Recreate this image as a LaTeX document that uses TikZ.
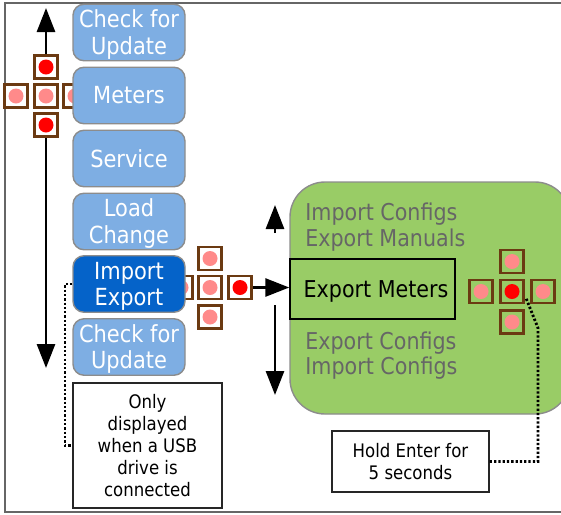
\documentclass[tikz,border=0pt]{standalone}
\usepackage{fontspec}
\setmainfont[FakeStretch=0.89]{DejaVu Sans}
\usetikzlibrary{arrows.meta}
\definecolor{menublue}{HTML}{7EAEE3}
\definecolor{menudark}{HTML}{0563C9}
\definecolor{panelgreen}{HTML}{99CC66}
\definecolor{keybrown}{HTML}{6B3A12}
\definecolor{keypink}{HTML}{FF8A8A}
\tikzset{
	menubox/.style={draw=black!45, line width=0.8pt, fill=menublue, rounded corners=2.2mm, minimum width=2.24cm, minimum height=1.13cm, align=center, text=white, inner sep=0pt, font=\fontsize{13.4}{15.2}\selectfont},
	notebox/.style={draw=black!85, line width=0.8pt, fill=white, align=center, inner sep=0pt, font=\fontsize{10.6}{12.5}\selectfont},
	padkey/.style={draw=keybrown, line width=1.5pt, fill=white, minimum size=0.46cm, inner sep=0pt},
	padon/.style={circle, fill=red, minimum size=0.3cm, inner sep=0pt},
	padoff/.style={circle, fill=keypink, minimum size=0.3cm, inner sep=0pt},
	grayitem/.style={anchor=west, text=black!60, inner sep=0pt, font=\fontsize{13.2}{15}\selectfont},
	movearrow/.style={line width=1.6pt, -{Triangle[length=0.48cm, width=0.36cm]}},
	notelink/.style={line width=1.6pt, dash pattern=on 1.3pt off 1.15pt},
}
\newcommand{\padkeyat}[4]{
	\node (#1) at (#2) [padkey, #3] {};
	\node (#1dot) at (#2) [#4] {};
}
\newcommand{\twolines}[2]{\rule{0pt}{12.6pt}#1\\#2}
\begin{document}
\begin{tikzpicture}[x=0.2mm, y=-0.2mm]
	\clip (0,0) rectangle (561,514);
	\draw[black!60, line width=0.8pt] (5,3) rectangle (575,512);

	% left pad
	\padkeyat{menuup}{46,67}{}{padon}
	\padkeyat{menucentre}{46,96}{}{padoff}
	\padkeyat{menuleft}{16,96}{}{padoff}
	\padkeyat{menuright}{75,96}{}{padoff}
	\padkeyat{menudown}{46,125}{}{padon}

	% middle pad
	\padkeyat{importup}{210,258.5}{}{padoff}
	\padkeyat{importcentre}{210,287.5}{}{padoff}
	\padkeyat{importleft}{181,287.5}{}{padoff}
	\padkeyat{importright}{240,287.5}{}{padon}
	\padkeyat{importdown}{210,317}{}{padoff}

	% menu column
	\node (checktop) at (129,32.5) [menubox] {\twolines{Check for}{Update}};
	\node (meters) at (129,95.5) [menubox] {Meters};
	\node (service) at (129,158.5) [menubox] {Service};
	\node (loadchange) at (129,221.5) [menubox] {\twolines{Load}{Change}};
	\node (importexport) at (129,284) [menubox, fill=menudark] {\twolines{Import}{Export}};
	\node (checkbottom) at (129,347) [menubox] {\twolines{Check for}{Update}};

	% submenu panel
	\node (panel) at (430,298) [draw=black!45, line width=0.8pt, fill=panelgreen, rounded corners=7mm, minimum width=5.6cm, minimum height=4.64cm] {};
	\node (importconfigs) at (305,214) [grayitem] {Import Configs};
	\node (exportmanuals) at (305,240) [grayitem] {Export Manuals};
	\node (exportmeters) at (372.5,289) [draw=black, line width=0.8pt, minimum width=3.3cm, minimum height=1.2cm, inner sep=0pt, font=\fontsize{13.2}{15}\selectfont] {\hspace*{0.14cm}\rule{0pt}{12.6pt}Export Meters};
	\node (exportconfigs) at (305,343) [grayitem] {Export Configs};
	\node (importconfigslast) at (305,368) [grayitem] {Import Configs};

	% right pad
	\padkeyat{enterup}{512,261.5}{fill=none}{padoff}
	\padkeyat{enterkey}{512,291.5}{fill=none}{padon}
	\padkeyat{enterleft}{481,291.5}{fill=none}{padoff}
	\padkeyat{enterright}{543,291.5}{fill=none}{padoff}
	\padkeyat{enterdown}{512,322}{fill=none}{padoff}

	% notes
	\node (usbnote) at (147.5,445.5) [notebox, minimum width=2.98cm, minimum height=2.5cm] {Only\\displayed\\when a USB\\drive is\\connected};
	\node (holdnote) at (410.5,461.5) [notebox, minimum width=3.14cm, minimum height=1.22cm] {Hold Enter for\\5 seconds};

	% arrows
	\coordinate (topend) at (46,8);
	\coordinate (bottomend) at (46,368);
	\coordinate (subupstart) at (275,233);
	\coordinate (subupend) at (275,205);
	\coordinate (subdownstart) at (275,305);
	\coordinate (subdownend) at (275,395);
	\draw[movearrow] (menuup.north) -- (topend);
	\draw[movearrow] (menudown.south) -- (bottomend);
	\draw[movearrow] (importright.east) -- (exportmeters.west |- importright.east);
	\draw[movearrow] (subupstart) -- (subupend);
	\draw[movearrow] (subdownstart) -- (subdownend);

	% dotted links
	\coordinate (usbbendtop) at (65,284);
	\coordinate (usbbendbottom) at (65,445.5);
	\coordinate (holdbendlow) at (538,461.5);
	\coordinate (holdbendhigh) at (538,328);
	\coordinate (holdend) at (526,298);
	\draw[notelink] (importexport.west) -- (usbbendtop) -- (usbbendbottom) -- (usbnote.west);
	\draw[notelink] (holdnote.east) -- (holdbendlow) -- (holdbendhigh) -- (holdend);
\end{tikzpicture}
\end{document}
